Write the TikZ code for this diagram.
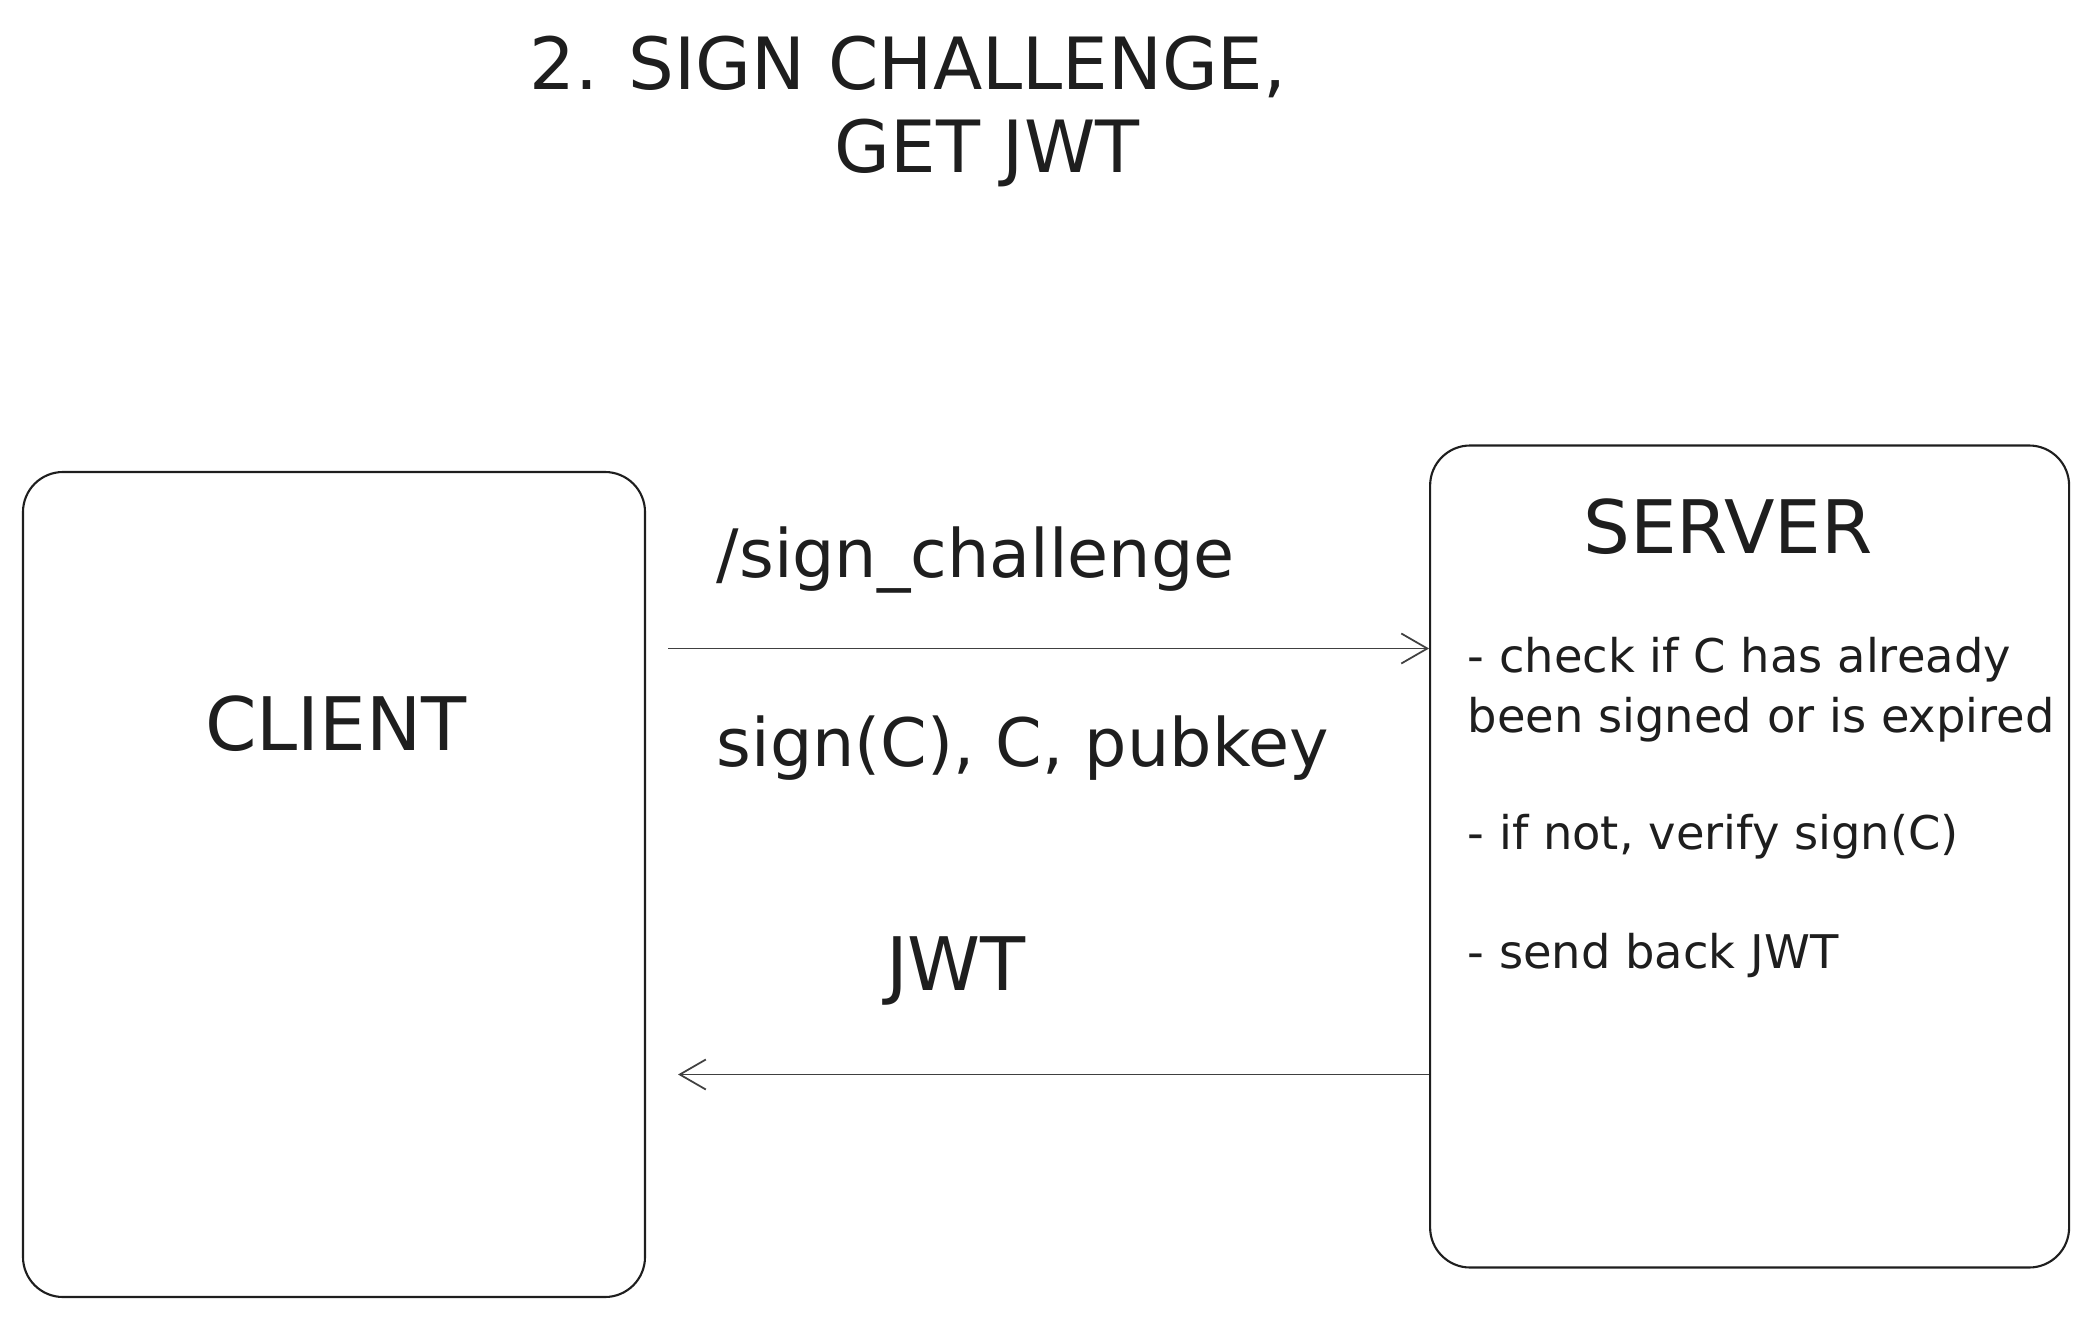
\documentclass[tikz,border=0pt]{standalone}
\usepackage{fontspec}
\setmainfont{DejaVu Sans}
\usepackage{tikz}
\usetikzlibrary{positioning,arrows.meta,calc}
\definecolor{ink}{HTML}{1E1E1E}

\begin{document}
\begin{tikzpicture}[font=\fontsize{19}{23}\selectfont, text=ink, node distance=1cm]
  \tikzstyle{box}=[rectangle,draw=ink,line width=0.6pt,rounded corners=0.4cm,minimum width=6.22cm,minimum height=8.25cm,inner sep=0pt]
  \tikzstyle{big}=[font=\fontsize{21}{25}\selectfont,inner sep=0pt]
  \tikzstyle{head}=[font=\fontsize{20.5}{25}\selectfont,inner sep=0pt]
  \tikzstyle{lbl}=[inner sep=0pt,anchor=west]
  \tikzstyle{note}=[font=\fontsize{13.2}{17}\selectfont,align=left,anchor=west,inner sep=0pt]
  \tikzstyle{msg}=[draw=ink!85,line width=0.5pt,-{Straight Barb[length=2.6mm,width=3mm]}]
  \useasboundingbox (0,0) rectangle (20.9,13.21);
  \node[head] (title1) at (9.08,12.54) {2. SIGN CHALLENGE,};
  \node[head] (title2) at (9.87,11.68) {GET JWT};
  \node[box] (client) at (3.34,4.365) {};
  \node[box,minimum width=6.39cm,minimum height=8.22cm] (server) [right=7.83cm of client,yshift=0.28cm] {};
  \node[big] (clientlbl) at (3.36,5.97) {CLIENT};
  \node[big] (serverlbl) at (17.28,7.94) {SERVER};
  \node[lbl] (req) at (7.16,7.61) {/sign\_challenge};
  \node[lbl] (payload) at (7.16,5.73) {sign(C), C, pubkey};
  \node[big] (jwt) at (9.56,3.50) {JWT};
  \node[note] (step1) at (14.67,6.31) {- check if C has already\\been signed or is expired};
  \node[note] (step2) at (14.67,4.84) {- if not, verify sign(C)};
  \node[note] (step3) at (14.67,3.65) {- send back JWT};
  \draw[msg] ([xshift=0.22cm,yshift=2.36cm]client.east) -- ([yshift=2.08cm]server.west);
  \draw[msg] ([yshift=-2.18cm]server.west) -- ([xshift=0.32cm,yshift=-1.9cm]client.east);
\end{tikzpicture}
\end{document}
